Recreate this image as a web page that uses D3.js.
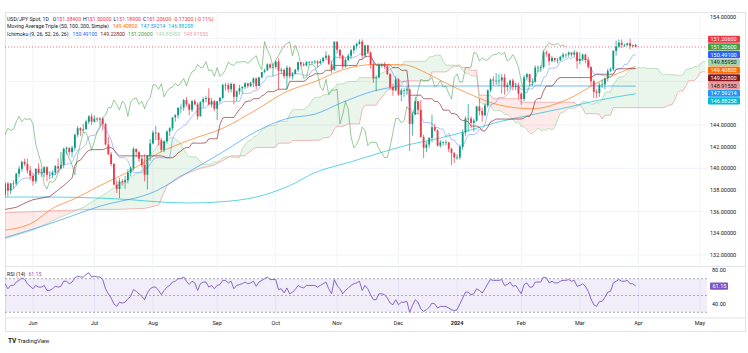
<!DOCTYPE html>
<html><head><meta charset="utf-8">
<script src="https://cdn.jsdelivr.net/npm/d3@7"></script>
<style>body{margin:0;background:#fff;} svg{display:block;font-family:Roboto,"Noto Sans",sans-serif;}</style>
</head><body><svg id="c" width="748" height="353"></svg>
<script>
// ---------- DATA (daily bars, first bar = 2023-05-18, weekdays) ----------
const firstOpen = 137.55;
const closes = [
138.6,137.95,138.6,138.6,139.5,139.95,140.6,140.4,139.8,139.3,
138.8,139.95,139.6,139.6,140.1,139.4,139.4,139.6,140.2,140.0,140.3,141.8,141.9,141.5,141.9,143.1,143.7,143.5,143.6,144.3,144.8,144.3,
144.6,144.5,144.6,144.1,142.2,141.3,140.4,138.5,138.1,138.8,138.7,138.9,139.6,140.0,141.8,141.5,140.9,140.3,139.4,141.2,142.3,
143.3,143.3,142.6,141.7,142.5,143.4,143.7,144.7,144.9,145.6,145.6,146.3,145.9,145.4,146.2,145.9,144.8,146.1,146.4,146.5,145.9,146.2,145.5,
146.2,146.5,147.7,147.7,147.3,147.8,146.6,147.1,147.4,147.5,147.85,147.6,147.9,148.3,147.6,148.4,148.9,149.05,149.6,149.3,149.35,
149.85,149.0,149.1,148.5,149.3,148.5,148.7,149.1,149.8,149.6,149.5,149.8,149.8,149.85,149.85,149.7,149.9,150.2,150.4,149.6,149.1,151.7,
150.95,150.4,149.4,150.0,150.4,150.9,151.3,151.5,151.7,150.4,151.35,150.7,149.6,148.3,148.4,149.55,149.6,149.4,148.7,147.5,147.2,148.2,
146.8,147.2,147.2,147.3,144.1,144.95,146.2,145.4,142.9,141.9,142.2,142.8,143.8,143.5,142.1,142.4,142.4,142.4,141.8,141.4,141.0,
141.0,142.0,143.3,144.6,144.6,144.2,144.4,145.7,145.3,144.9,145.8,147.2,148.2,148.1,148.1,148.1,148.4,147.5,147.7,148.1,147.5,147.6,146.9,
146.4,148.4,148.7,147.95,148.0,149.3,149.3,149.35,150.7,150.6,149.9,150.2,150.0,150.0,150.3,150.5,150.5,150.7,150.5,150.7,149.9,
150.1,150.5,150.0,149.35,148.05,147.05,146.95,147.7,147.75,148.3,149.0,149.15,150.85,151.25,151.6,151.4,151.4,151.55,151.3,151.384,151.206];
const highs = [
138.7,138.75,138.65,138.9,139.6,140.2,140.7,140.9,140.9,140.2,
139.6,140.0,140.45,139.95,140.2,140.2,139.7,139.8,140.3,140.9,141.5,141.9,142.0,141.9,142.1,143.2,143.9,143.8,144.1,144.5,144.9,145.05,
144.9,144.7,144.7,144.7,144.2,142.9,141.5,140.5,138.9,139.1,139.0,139.3,139.9,140.2,141.95,141.8,141.6,141.2,141.3,141.2,142.7,
143.5,143.9,143.2,142.8,142.6,143.5,143.8,144.7,145.0,145.6,145.9,146.4,146.6,146.0,146.3,146.4,146.1,146.2,146.6,146.7,147.4,146.5,146.3,
146.2,146.6,147.8,147.9,147.9,147.9,147.6,147.2,147.7,147.6,147.95,147.9,148.0,148.4,148.4,148.45,148.9,149.2,149.7,149.7,149.7,
149.9,150.16,149.3,149.2,149.5,149.4,148.9,149.2,149.85,149.8,149.8,149.9,149.9,149.9,150.0,150.0,150.1,150.3,150.8,150.5,149.9,151.7,
151.7,151.0,150.5,150.2,150.6,151.0,151.4,151.6,151.9,151.9,151.4,151.4,150.8,149.8,148.6,149.7,149.7,149.8,149.6,148.8,147.8,148.5,
148.3,147.4,147.4,147.5,147.3,145.2,146.6,146.2,146.3,143.1,142.5,142.9,144.95,144.1,143.6,142.6,142.5,142.6,142.4,141.9,141.5,
141.3,142.2,143.6,144.8,145.95,144.8,144.6,145.8,146.4,145.6,146.0,147.3,148.3,148.5,148.8,148.7,148.7,148.7,147.9,148.2,148.3,147.9,147.9,
147.0,148.6,148.8,148.7,148.3,149.5,149.5,149.5,150.9,150.9,150.6,150.4,150.2,150.2,150.4,150.7,150.6,150.8,150.7,150.9,150.8,
150.7,150.6,150.6,150.3,149.4,148.2,147.3,147.9,148.2,148.4,149.2,149.3,150.9,151.8,151.9,151.9,151.5,151.6,151.97,151.4,151.5];
const lows = [
137.3,137.4,137.6,138.1,138.4,139.2,139.7,140.2,139.5,138.9,
138.4,138.6,139.4,139.2,139.2,138.8,139.0,139.1,139.4,139.6,139.9,140.0,141.3,141.2,141.0,141.6,142.9,143.0,143.3,143.6,144.1,144.0,
144.2,144.3,144.0,143.5,142.1,141.2,140.2,138.4,137.7,137.25,138.4,138.1,138.6,139.3,139.8,141.0,140.6,140.1,138.8,138.05,140.7,
142.2,142.6,142.1,141.5,141.5,142.3,143.0,143.5,144.3,144.6,145.1,145.3,145.7,144.9,145.2,145.8,144.5,144.8,145.6,146.1,145.8,145.6,145.3,
144.45,146.0,146.4,147.2,147.0,147.0,145.9,146.2,146.8,146.9,147.3,147.4,147.5,147.5,147.3,147.6,148.3,148.8,149.0,149.2,148.5,
149.2,147.3,148.7,148.3,147.3,148.3,148.2,148.7,148.9,149.4,149.4,149.4,149.5,149.6,149.6,149.3,149.6,149.8,150.1,149.6,148.8,149.0,
150.6,150.1,149.2,149.3,149.9,150.1,150.6,151.0,151.4,150.1,150.2,150.6,149.2,147.9,147.15,148.3,149.3,149.2,148.6,147.3,146.7,147.1,
146.7,146.2,146.6,146.8,141.6,143.0,144.9,145.0,142.8,140.95,141.5,141.9,142.4,143.4,142.0,141.9,142.1,142.1,141.5,140.3,140.5,
140.8,140.8,141.7,143.0,143.4,143.7,143.4,144.3,144.9,144.3,144.8,145.6,147.0,147.6,147.7,147.6,146.9,146.8,147.1,147.3,147.2,147.2,146.4,
145.86,146.2,148.1,147.6,147.6,147.9,148.9,148.9,149.2,150.3,149.5,149.8,149.8,149.7,149.9,150.1,150.2,150.3,150.3,150.3,149.2,
149.6,149.9,149.7,149.2,147.6,146.48,146.5,146.6,147.4,147.3,148.0,148.9,149.0,150.4,151.1,151.1,151.2,151.3,151.0,151.15,151.189];
const rsi = [
64,58,62,62,66,68,71,69,64,61,
58,62,60,60,62,56,56,58,61,60,61,67,67,64,66,71,73,72,72,75,77,72,
73,72,72,69,58,52,47,40,37,42,41,42,46,49,57,55,52,49,45,53,58,
60,60,56,51,56,60,62,66,67,70,70,72,67,63,67,65,56,64,66,66,60,62,58,
62,63,68,68,65,67,58,62,63,64,66,64,65,67,61,66,68,70,72,69,69,
69,57,58,53,59,52,54,57,62,60,59,62,62,62,62,60,62,64,66,58,52,69,
62,58,52,56,59,62,64,65,67,56,62,58,51,45,45,52,52,51,47,41,39,45,
39,42,42,43,30,38,45,42,34,31,33,36,41,40,35,37,37,37,35,33,32,
33,40,47,54,54,51,52,58,56,53,58,64,69,68,68,68,69,62,63,66,61,62,57,
52,63,65,60,60,66,66,66,72,71,65,67,65,65,67,68,68,69,67,68,61,
62,64,61,55,46,39,37,43,43,48,54,55,65,67,69,67,67,68,64,64,61.15];
// moving averages: [barIndex, value]
const ma50 = [[0,134.3],[10,135.0],[17,136.3],[25,137.2],[34,138.4],[45,139.8],[55,141.4],[66,142.6],[78,143.7],[90,145.4],[101,147.1],[111,148.0],[121,149.1],[133,149.6],[143,149.55],[151,148.8],[157,148.0],[167,146.8],[177,145.85],[189,145.5],[201,146.3],[213,148.0],[226,149.408]];
const ma100 = [[0,133.6],[15,134.8],[34,136.5],[54,137.9],[66,139.7],[78,141.5],[90,143.4],[101,144.6],[111,145.0],[121,146.1],[133,147.2],[145,147.6],[165,147.6],[188,147.6],[213,147.6],[226,147.59214]];
const ma200 = [[0,137.35],[16,137.35],[34,137.25],[45,137.1],[55,136.9],[66,136.8],[77,136.9],[90,137.35],[102,138.4],[111,139.6],[124,140.6],[134,141.4],[145,142.2],[156,142.8],[165,143.4],[177,144.3],[188,144.9],[201,145.6],[213,146.3],[226,146.88258]];
// Ichimoku lead-in values before the data window allows computing them
const kijunEarly = [[0,136.2],[4,136.4],[8,136.9],[10,137.1],[16,137.4],[19,138.0],[21,138.4],[24,139.1]];
const spanAEarly = [[0,133.5],[10,134.3],[20,135.5],[28,136.4],[35,137.5],[40,138.4],[49,139.8]];
const spanBEarly = [[0,135.9],[10,136.0],[20,136.1],[30,136.2],[40,136.2],[50,136.3],[55,136.6],[58,138.4],[62,139.2],[66,139.6],[70,140.0],[75,140.3],[80,141.0]];
// legend values
const ohlcLegend = ["151.38400","151.50000","151.18900","151.20600"];
const changeLegend = "-0.17300 (-0.11%)";
const maLegend = [149.408,147.59214,146.88258];
const ichiLegend = [150.491,149.228,151.206,149.8595,148.9155];
const rsiLast = 61.15;
const priceTicks = [154,152,150,148,146,144,142,140,138,136,134,132];
const gridPrices = [152,148,144,140,136,132];
const rsiTicks = [80,60,40];

// ---------- LAYOUT ----------
const L=5, R=707, PT=12, PB=266.5, RT=266.5, RB=318, AB=331, AR=745;
const green="#089981", red="#f23645";
const svg=d3.select('#c');
const N=closes.length;
const x=d3.scaleLinear().domain([0,251]).range([5.1,705.4]);
const y=d3.scaleLinear().domain([144,154]).range([125,16.7]);
const yr=d3.scaleLinear().domain([30,70]).range([312.3,278.7]);

// calendar
const dates=[]; let dd=new Date(Date.UTC(2023,4,18));
while(dates.length<260){const wd=dd.getUTCDay(); if(wd!==0&&wd!==6) dates.push(new Date(dd)); dd=new Date(dd.getTime()+86400000);}
const mNames=["Jan","Feb","Mar","Apr","May","Jun","Jul","Aug","Sep","Oct","Nov","Dec"];
const ticks=[];
for(let i=1;i<dates.length;i++){ if(dates[i].getUTCMonth()!==dates[i-1].getUTCMonth() && x(i)<R){
  const m=dates[i].getUTCMonth(); ticks.push({i, label: m===0? String(dates[i].getUTCFullYear()) : mNames[m], year:m===0});}}

const defs=svg.append('defs');
defs.append('clipPath').attr('id','plotClip').append('rect').attr('x',L).attr('y',PT).attr('width',R-L).attr('height',PB-PT);
defs.append('clipPath').attr('id','rsiClip').append('rect').attr('x',L).attr('y',RT).attr('width',R-L).attr('height',RB-RT);

// frame
svg.append('rect').attr('x',L+0.5).attr('y',PT+0.5).attr('width',AR-L).attr('height',AB-PT).attr('fill','none').attr('stroke','#e0e3eb').attr('stroke-width',1);
svg.append('line').attr('x1',L).attr('x2',AR).attr('y1',RT).attr('y2',RT).attr('stroke','#e0e3eb');
svg.append('line').attr('x1',L).attr('x2',AR).attr('y1',RB).attr('y2',RB).attr('stroke','#e0e3eb');

// grid
const grid=svg.append('g').attr('stroke','#f0f3fa').attr('stroke-width',1);
ticks.forEach(t=>grid.append('line').attr('x1',x(t.i)).attr('x2',x(t.i)).attr('y1',PT).attr('y2',RB));
gridPrices.forEach(p=>grid.append('line').attr('x1',L).attr('x2',R).attr('y1',y(p)).attr('y2',y(p)));

// ---------- INDICATORS ----------
const opens=closes.map((c,i)=>i===0?firstOpen:closes[i-1]);
function midRange(i,len){const s=Math.max(0,i-len+1);return (d3.max(highs.slice(s,i+1))+d3.min(lows.slice(s,i+1)))/2;}
const tenkan=closes.map((c,i)=>[i,midRange(i,9)]);
const kijunCalc=[]; for(let i=25;i<N;i++) kijunCalc.push([i,midRange(i,26)]);
const kijun=kijunEarly.concat(kijunCalc);
const spanA=spanAEarly.slice(); for(let i=25;i<N;i++) spanA.push([i+25,(tenkan[i][1]+midRange(i,26))/2]);
const spanB=spanBEarly.slice(); for(let i=56;i<N;i++) spanB.push([i+25,midRange(i,52)]);
const lagging=[]; for(let i=25;i<N;i++) lagging.push([i-25,closes[i]]);

const plot=svg.append('g').attr('clip-path','url(#plotClip)');
// cloud
const belowA=d3.area().x(d=>x(d[0])).y0(d=>y(d[1])).y1(PB+100);
const belowB=d3.area().x(d=>x(d[0])).y0(d=>y(d[1])).y1(PB+100);
const aboveA=d3.area().x(d=>x(d[0])).y0(d=>y(d[1])).y1(PT-100);
const aboveB=d3.area().x(d=>x(d[0])).y0(d=>y(d[1])).y1(PT-100);
defs.append('clipPath').attr('id','clipBelowA').append('path').attr('d',belowA(spanA));
defs.append('clipPath').attr('id','clipBelowB').append('path').attr('d',belowB(spanB));
plot.append('path').attr('d',aboveB(spanB)).attr('clip-path','url(#clipBelowA)').attr('fill','rgba(67,160,71,0.11)');
plot.append('path').attr('d',aboveA(spanA)).attr('clip-path','url(#clipBelowB)').attr('fill','rgba(244,67,54,0.11)');

const line=d3.line().x(d=>x(d[0])).y(d=>y(d[1]));
const smooth=d3.line().x(d=>x(d[0])).y(d=>y(d[1])).curve(d3.curveMonotoneX);
function draw(gen,data,color,w,op){plot.append('path').attr('d',gen(data)).attr('fill','none').attr('stroke',color).attr('stroke-width',w).attr('stroke-opacity',op||1);}
draw(line,spanA,'#a5d6a7',0.7);
draw(line,spanB,'#ef9a9a',0.7);
draw(smooth,ma200,'#00bcd4',0.75,0.85);
draw(smooth,ma100,'#2196f3',0.75,0.85);
draw(smooth,ma50,'#ff6d00',0.75,0.85);
draw(line,lagging,'#43a047',0.65,0.85);
draw(line,kijun,'#801922',0.7,0.9);
draw(line,tenkan,'#2962ff',0.7,0.55);

// current price line
plot.append('line').attr('x1',L).attr('x2',R).attr('y1',y(closes[N-1])).attr('y2',y(closes[N-1])).attr('stroke',red).attr('stroke-width',0.7).attr('stroke-dasharray','1,2');

// candles
const cg=plot.append('g');
closes.forEach((c,i)=>{
  const o=opens[i], col=c>=o?green:red, cx=x(i);
  cg.append('line').attr('x1',cx).attr('x2',cx).attr('y1',y(highs[i])).attr('y2',y(lows[i])).attr('stroke',col).attr('stroke-width',0.7);
  const top=y(Math.max(o,c)), bot=y(Math.min(o,c));
  cg.append('rect').attr('x',cx-0.9).attr('width',1.8).attr('y',top).attr('height',Math.max(0.7,bot-top)).attr('fill',col);
});

// ---------- RSI ----------
const rg=svg.append('g').attr('clip-path','url(#rsiClip)');
rg.append('rect').attr('x',L).attr('width',R-L).attr('y',yr(70)).attr('height',yr(30)-yr(70)).attr('fill','rgba(126,87,194,0.1)');
[70,50,30].forEach(v=>rg.append('line').attr('x1',L).attr('x2',R).attr('y1',yr(v)).attr('y2',yr(v)).attr('stroke','#787b86').attr('stroke-width',0.6).attr('stroke-dasharray','2,2'));
rg.append('path').attr('d',d3.line().x((d,i)=>x(i)).y(d=>yr(d))(rsi)).attr('fill','none').attr('stroke','#7e57c2').attr('stroke-width',0.9);

// ---------- AXES ----------
const fs=5.5;
ticks.forEach(t=>svg.append('text').attr('x',x(t.i)).attr('y',324.8).attr('text-anchor','middle').attr('font-size',fs).attr('font-weight',t.year?'bold':'normal').attr('fill','#131722').text(t.label));

const tagH=7.7;
const tagDefs=[
 {v:closes[N-1],bg:red,fg:'#fff'},
 {v:ichiLegend[2],bg:'#43a047',fg:'#fff'},
 {v:ichiLegend[0],bg:'#2962ff',fg:'#fff'},
 {v:ichiLegend[3],bg:'#a5d6a7',fg:'#131722'},
 {v:maLegend[0],bg:'#ff6d00',fg:'#fff'},
 {v:ichiLegend[1],bg:'#801922',fg:'#fff'},
 {v:ichiLegend[4],bg:'#ef9a9a',fg:'#131722'},
 {v:maLegend[1],bg:'#2196f3',fg:'#fff'},
 {v:maLegend[2],bg:'#00bcd4',fg:'#fff'}];
const others=tagDefs.slice(1).sort((a,b)=>b.v-a.v);
others.forEach((t,k)=>{const ty=y(t.v); t.py=k===0?ty:Math.max(ty,others[k-1].py+tagH);});
tagDefs[0].py=Math.min(y(tagDefs[0].v),others[0].py-tagH);
const tagYs=tagDefs.map(t=>t.py);
priceTicks.forEach(p=>{const py=y(p); if(py<PT||py>PB-3) return; if(tagYs.some(ty=>Math.abs(ty-py)<6)) return;
  svg.append('text').attr('x',710).attr('y',py+2).attr('font-size',fs).attr('fill','#131722').text(p.toFixed(5));});
tagDefs.forEach(t=>{
  svg.append('rect').attr('x',708).attr('y',t.py-3.6).attr('width',32).attr('height',7.2).attr('rx',1).attr('fill',t.bg);
  svg.append('text').attr('x',710.5).attr('y',t.py+2).attr('font-size',fs).attr('fill',t.fg).text(t.v.toFixed(5));
});
const rsiTagY=yr(rsiLast);
rsiTicks.forEach(v=>{const py=yr(v); if(py<RT+2||py>RB-2) return; if(Math.abs(py-rsiTagY)<6) return;
  svg.append('text').attr('x',712).attr('y',py+2).attr('font-size',fs).attr('fill','#131722').text(v.toFixed(2));});
svg.append('rect').attr('x',710).attr('y',rsiTagY-3.6).attr('width',18).attr('height',7.2).attr('rx',1).attr('fill','#7e57c2');
svg.append('text').attr('x',712.5).attr('y',rsiTagY+2).attr('font-size',fs).attr('fill','#fff').text(rsiLast.toFixed(2));

// ---------- LEGENDS ----------
const lfs=5.2, dark='#131722';
function legend(yy,parts){const t=svg.append('text').attr('x',7).attr('y',yy).attr('font-size',lfs);
  parts.forEach(p=>t.append('tspan').attr('dx',p[2]||0).attr('fill',p[1]).text(p[0]));}
legend(21,[["USD/JPY Spot, 1D",dark],["O",dark,4],[ohlcLegend[0],red],["H",dark,2],[ohlcLegend[1],red],["L",dark,2],[ohlcLegend[2],red],["C",dark,2],[ohlcLegend[3],red],[changeLegend,red,2]]);
legend(28.4,[["Moving Average Triple (50, 100, 200, Simple)",dark],[maLegend[0].toFixed(5),'#ff6d00',4],[maLegend[1].toFixed(5),'#2196f3',3],[maLegend[2].toFixed(5),'#00bcd4',3]]);
legend(35.8,[["Ichimoku (9, 26, 52, 26, 26)",dark],[ichiLegend[0].toFixed(5),'#2962ff',4],[ichiLegend[1].toFixed(5),'#801922',3],[ichiLegend[2].toFixed(5),'#43a047',3],[ichiLegend[3].toFixed(5),'#a5d6a7',3],[ichiLegend[4].toFixed(5),'#ef9a9a',3]]);
legend(276,[["RSI (14)",dark],[rsiLast.toFixed(2),'#7e57c2',3]]);

const tv=svg.append('g');
tv.append('text').attr('x',8).attr('y',343).attr('font-size',6.5).attr('font-weight','bold').attr('fill',dark).text('TV');
tv.append('text').attr('x',17.5).attr('y',343).attr('font-size',5.8).attr('fill',dark).text('TradingView');
</script></body></html>
